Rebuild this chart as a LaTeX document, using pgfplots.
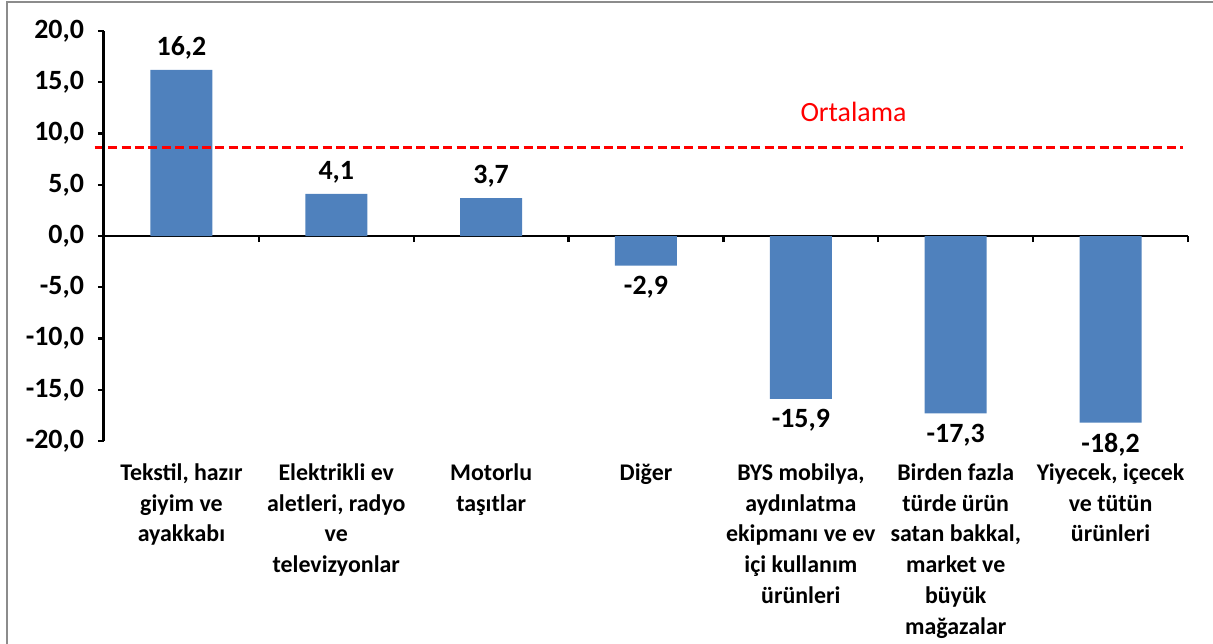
\documentclass[border=0pt]{standalone}
\usepackage{pgfplots}
\pgfplotsset{compat=1.18}
\usepackage{fontspec}
\setmainfont{Carlito}
\definecolor{barblue}{HTML}{4F81BD}
\definecolor{framegray}{HTML}{8C8C8C}
\begin{document}
\begin{tikzpicture}
\useasboundingbox (0,0) rectangle (606.5bp,-322bp);
\draw[framegray, line width=1.2bp] (3.5bp,-322bp) -- (3.5bp,-1bp) -- (606.5bp,-1bp);
\begin{axis}[
 at={(52bp,-220.5bp)}, anchor=south west,
 scale only axis, width=542bp, height=205bp,
 xmin=-0.5, xmax=6.5, ymin=-20, ymax=20,
 axis y line=left, axis x line=middle,
 axis line style={-, black, line width=1.2bp},
 tick style={black, line width=1.2bp},
 tick align=outside,
 major tick length=3bp,
 ytick={-20,-15,...,20},
 xtick={-0.5,0.5,...,6.5}, xticklabels={},
 yticklabel style={font=\fontsize{14}{16}\selectfont\bfseries, xshift=-3.5bp},
 /pgf/number format/fixed,
 /pgf/number format/fixed zerofill,
 /pgf/number format/precision=1,
 /pgf/number format/use comma,
 /pgf/number format/assume math mode=true,
 clip=false,
]
\addplot[ybar, bar width=31bp, fill=barblue, draw=none,
  nodes near coords,
  nodes near coords style={font=\fontsize{14}{16}\selectfont\bfseries, black, inner sep=5bp}]
  coordinates {(0,16.2) (1,4.1) (2,3.7) (3,-2.9) (4,-15.9) (5,-17.3) (6,-18.2)};
\addplot[red, line width=1.6bp, dash pattern=on 4.5bp off 2.2bp, forget plot]
  coordinates {(-0.56,8.6) (6.47,8.6)};
\addplot[black, line width=1.5bp, forget plot] coordinates {(-0.5,-20) (-0.5,20)};
\node[red, font=\fontsize{14}{16}\selectfont] at (axis cs:4.34,12.1) {Ortalama};
\tikzset{catlab/.style={anchor=north, align=center, inner sep=0pt, yshift=-11bp, font=\fontsize{12}{15.5}\selectfont\bfseries}}
\node[catlab] at (axis cs:0,-20) {Tekstil, hazır\\giyim ve\\ayakkabı};
\node[catlab] at (axis cs:1,-20) {Elektrikli ev\\aletleri, radyo\\ve\\televizyonlar};
\node[catlab] at (axis cs:2,-20) {Motorlu\\taşıtlar};
\node[catlab] at (axis cs:3,-20) {Diğer};
\node[catlab] at (axis cs:4,-20) {BYS mobilya,\\aydınlatma\\ekipmanı ve ev\\içi kullanım\\ürünleri};
\node[catlab] at (axis cs:5,-20) {Birden fazla\\türde ürün\\satan bakkal,\\market ve\\büyük\\mağazalar};
\node[catlab] at (axis cs:6,-20) {Yiyecek, içecek\\ve tütün\\ürünleri};
\end{axis}
\end{tikzpicture}
\end{document}
